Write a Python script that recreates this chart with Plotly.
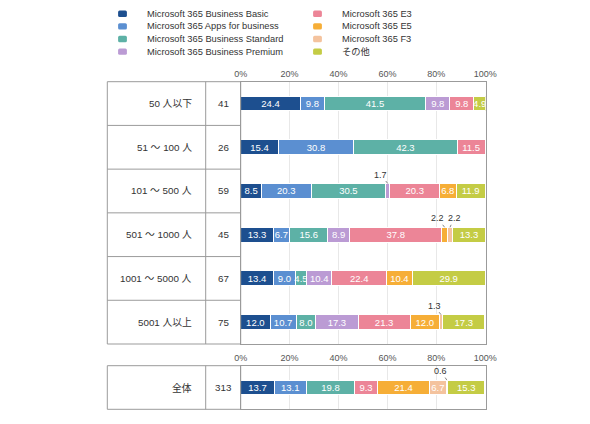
import plotly.graph_objects as go

# data
categories = ['50 人以下', '51 ～ 100 人', '101 ～ 500 人', '501 ～ 1000 人', '1001 ～ 5000 人', '5001 人以上']
n_counts = [41, 26, 59, 45, 67, 75]

series_names = ['Microsoft 365 Business Basic', 'Microsoft 365 Apps for business',
                'Microsoft 365 Business Standard', 'Microsoft 365 Business Premium',
                'Microsoft 365 E3', 'Microsoft 365 E5', 'Microsoft 365 F3', 'その他']

basic = [24.4, 15.4, 8.5, 13.3, 13.4, 12.0]
apps = [9.8, 30.8, 20.3, 6.7, 9.0, 10.7]
standard = [41.5, 42.3, 30.5, 15.6, 4.5, 8.0]
premium = [9.8, 0, 1.7, 8.9, 10.4, 17.3]
e3 = [9.8, 11.5, 20.3, 37.8, 22.4, 21.3]
e5 = [0, 0, 6.8, 2.2, 10.4, 12.0]
f3 = [0, 0, 0, 2.2, 0, 1.3]
other = [4.9, 0, 11.9, 13.3, 29.9, 17.3]
series_values = [basic, apps, standard, premium, e3, e5, f3, other]

total_label = '全体'
total_n = 313
# segments of the total row, in drawing order (series index, value)
total_series = [0, 1, 2, 4, 5, 6, 3, 7]
total_values = [13.7, 13.1, 19.8, 9.3, 21.4, 6.7, 0.6, 15.3]

tick_vals = [0, 20, 40, 60, 80, 100]
tick_text = ['0%', '20%', '40%', '60%', '80%', '100%']

colors = ['#1d4f8f', '#5b8fd1', '#5db1a6', '#bb9bd4', '#ec8597', '#f6ae37', '#f4c39e', '#c4cc45']

# page body has an 8px margin, so the figure is drawn 8px in from the corner
OFF = 8
W, H = 590 - 2 * OFF, 424 - 2 * OFF
FONT = 'Liberation Sans, Noto Sans CJK JP, sans-serif'
LINE = '#9b9b9b'
SMALL = 3


def px(x):
    return (x - OFF) / W


def py(y):
    return 1 - (y - OFF) / H


def fmt(v):
    return f'{v:.1f}' if v >= SMALL else ''


fig = go.Figure()
annotations = []
shapes = []

# main stacked bars
for name, vals, col in zip(series_names, series_values, colors):
    fig.add_trace(go.Bar(
        orientation='h', y=categories, x=[v if v else None for v in vals],
        xaxis='x', yaxis='y', width=0.34, name=name, showlegend=False,
        marker=dict(color=col, line=dict(color='white', width=1)),
        text=[fmt(v) for v in vals], textposition='inside', insidetextanchor='middle',
        textangle=0, textfont=dict(color='white', size=9.5, family=FONT)))

# total bar
for k, v in zip(total_series, total_values):
    fig.add_trace(go.Bar(
        orientation='h', y=[total_label], x=[v], xaxis='x2', yaxis='y2', width=0.34,
        name=series_names[k], showlegend=False,
        marker=dict(color=colors[k], line=dict(color='white', width=1)),
        text=[fmt(v)], textposition='inside', insidetextanchor='middle',
        textangle=0, textfont=dict(color='white', size=9.5, family=FONT)))


def small_label(x, y, v, ax, xref, yref):
    annotations.append(dict(
        x=x, y=y, xref=xref, yref=yref, text=f'{v:.1f}', showarrow=True,
        arrowhead=0, arrowwidth=0.8, arrowcolor='#666', ax=ax, ay=-9,
        standoff=0, font=dict(size=9, color='#333', family=FONT)))


# small value callouts, main rows
for i in range(len(categories)):
    cum = 0
    prev_small = False
    for vals in series_values:
        v = vals[i]
        if 0 < v < SMALL:
            small_label(cum + v / 2, i - 0.17, v, 4 if prev_small else -7, 'x', 'y')
            prev_small = True
        else:
            prev_small = False
        cum += v

# small value callouts, total row
cum = 0
for v in total_values:
    if v < SMALL:
        small_label(cum + v / 2, -0.17, v, -6, 'x2', 'y2')
    cum += v

# row labels and counts
lab_font = dict(size=9.8, color='#333', family=FONT)
for cat, n in zip(categories, n_counts):
    annotations.append(dict(x=px(194), y=cat, xref='paper', yref='y', text=cat, showarrow=False,
                            xanchor='right', font=lab_font))
    annotations.append(dict(x=px(223.2), y=cat, xref='paper', yref='y', text=str(n), showarrow=False,
                            xanchor='center', font=lab_font))
annotations.append(dict(x=px(194), y=total_label, xref='paper', yref='y2', text=total_label,
                        showarrow=False, xanchor='right', font=lab_font))
annotations.append(dict(x=px(223.2), y=total_label, xref='paper', yref='y2', text=str(total_n),
                        showarrow=False, xanchor='center', font=lab_font))

# table lines
for yr in ['y', 'y2']:
    shapes.append(dict(type='rect', xref='paper', yref=yr + ' domain', x0=px(107.3), x1=px(240.7),
                       y0=0, y1=1, line=dict(color=LINE, width=1)))
    shapes.append(dict(type='line', xref='paper', yref=yr + ' domain', x0=px(205.7), x1=px(205.7),
                       y0=0, y1=1, line=dict(color=LINE, width=1)))
for i in range(len(categories) - 1):
    shapes.append(dict(type='line', xref='paper', yref='y', x0=px(107.3), x1=px(240.7),
                       y0=i + 0.5, y1=i + 0.5, line=dict(color=LINE, width=1)))


def rounded_rect(x0, y0, x1, y1, r):
    # path in paper coords, r given in px
    rx, ry = r / W, r / H
    return (f'M {x0 + rx},{y0} L {x1 - rx},{y0} Q {x1},{y0} {x1},{y0 + ry} '
            f'L {x1},{y1 - ry} Q {x1},{y1} {x1 - rx},{y1} L {x0 + rx},{y1} '
            f'Q {x0},{y1} {x0},{y1 - ry} L {x0},{y0 + ry} Q {x0},{y0} {x0 + rx},{y0} Z')


# legend (two columns of four)
for j, (name, col) in enumerate(zip(series_names, colors)):
    cx = 122.5 if j < 4 else 317.5
    tx = 145 if j < 4 else 340
    cy = 13.8 + (j % 4) * 12.6
    shapes.append(dict(type='path', xref='paper', yref='paper',
                       path=rounded_rect(px(cx - 4.4), py(cy + 3.2), px(cx + 4.4), py(cy - 3.2), 1.5),
                       fillcolor=col, line=dict(width=0)))
    annotations.append(dict(x=px(tx), y=py(cy), xref='paper', yref='paper', text=name, showarrow=False,
                            xanchor='left', yanchor='middle', font=dict(size=9.3, color='#333', family=FONT)))

axis_x = dict(range=[0, 100.2], tickvals=tick_vals, ticktext=tick_text, side='top', showgrid=True,
              gridcolor='#e8e8e8', gridwidth=1, showline=True, mirror=True, linecolor=LINE,
              linewidth=1, zeroline=False, ticks='', fixedrange=True, automargin=False,
              tickfont=dict(size=9, color='#555', family=FONT))
axis_y = dict(showline=True, mirror=True, linecolor=LINE, linewidth=1, showticklabels=False,
              ticks='', showgrid=False, zeroline=False, automargin=False)

fig.update_layout(
    width=W, height=H, barmode='stack', plot_bgcolor='white', paper_bgcolor='white',
    margin=dict(l=0, r=0, t=0, b=0), showlegend=False,
    uniformtext=dict(minsize=9, mode='show'),
    font=dict(family=FONT),
    xaxis=dict(axis_x, domain=[px(240.7), px(485.7)], anchor='y'),
    yaxis=dict(axis_y, domain=[py(344), py(81.7)], range=[len(categories) - 0.5, -0.5], anchor='x'),
    xaxis2=dict(axis_x, domain=[px(240.7), px(485.7)], anchor='y2'),
    yaxis2=dict(axis_y, domain=[py(409.3), py(365.7)], range=[0.5, -0.5], anchor='x2'),
    annotations=annotations, shapes=shapes)

fig.write_html('out.html')
